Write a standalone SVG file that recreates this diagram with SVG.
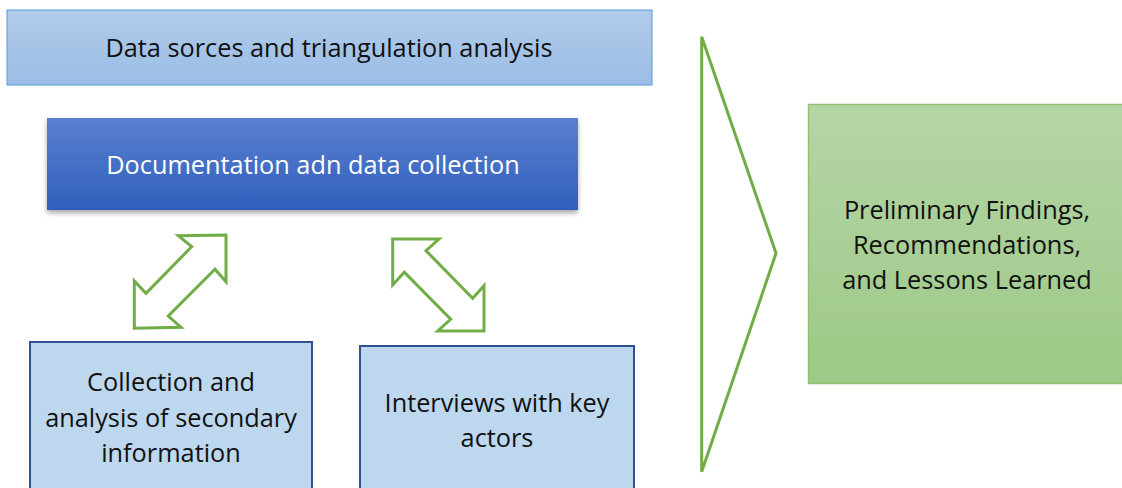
<svg xmlns="http://www.w3.org/2000/svg" width="1122" height="488" viewBox="0 0 1122 488">
<defs>
<linearGradient id="gTop" x1="0" y1="0" x2="0" y2="1"><stop offset="0" stop-color="#b1cbe9"/><stop offset="1" stop-color="#9bbde6"/></linearGradient>
<linearGradient id="gBlue" x1="0" y1="0" x2="0" y2="1"><stop offset="0" stop-color="#5a80cf"/><stop offset="1" stop-color="#2f5fbc"/></linearGradient>
<linearGradient id="gGreen" x1="0" y1="0" x2="0" y2="1"><stop offset="0" stop-color="#b5d5a6"/><stop offset="1" stop-color="#9dc986"/></linearGradient>
<filter id="shadow" x="-5%" y="-10%" width="110%" height="130%"><feDropShadow dx="0" dy="3" stdDeviation="2.5" flood-color="#000" flood-opacity="0.35"/></filter>
<style>
text{font-family:"Open Sans","Liberation Sans",sans-serif;font-size:25.3px;text-anchor:middle;fill:#111}
.green{fill:none;stroke:#70ad47;stroke-width:3;stroke-linejoin:miter}
.light{fill:#bdd7ee;stroke:#2f528f;stroke-width:2}
</style>
</defs>
<rect width="1122" height="488" fill="#fff"/>
<g id="node-sources">
<rect x="7" y="10" width="645" height="75" fill="url(#gTop)" stroke="#5b9bd5" stroke-width="1"/>
<text x="329" y="57">Data sorces and triangulation analysis</text>
</g>
<g id="node-documentation">
<rect x="47" y="118" width="531" height="92" fill="url(#gBlue)" filter="url(#shadow)"/>
<text x="313" y="174" style="fill:#fff">Documentation adn data collection</text>
</g>
<g id="node-secondary">
<rect x="30" y="342" width="282" height="160" class="light"/>
<text x="171" y="391">Collection and</text>
<text x="171" y="427">analysis of secondary</text>
<text x="171" y="462">information</text>
</g>
<g id="node-interviews">
<rect x="360" y="346" width="274" height="160" class="light"/>
<text x="497" y="412">Interviews with key</text>
<text x="497" y="447">actors</text>
</g>
<g id="node-findings">
<rect x="808.5" y="104.5" width="320" height="279" fill="url(#gGreen)" stroke="#8fc171" stroke-width="1.5"/>
<text x="967" y="219">Preliminary Findings,</text>
<text x="967" y="254">Recommendations,</text>
<text x="967" y="289">and Lessons Learned</text>
</g>
<g id="connectors">
<polygon class="green" points="178.3,235.7 226,235 226,281.7 215,269.3 168.3,316 181,327.3 134.3,328.3 134.3,281 146,293.3 191.7,246.7"/>
<polygon class="green" points="392.7,239 439,239 426,250.7 472.7,298.3 484,285.7 484,331 437.7,331 450.7,319.3 404.3,272.3 392.7,285"/>
<polygon class="green" points="701.7,36.7 776,253.3 701.7,471.7"/>
</g>
</svg>
